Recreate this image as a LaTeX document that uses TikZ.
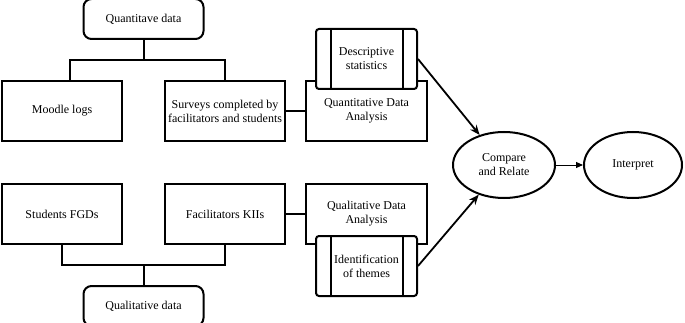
\documentclass[tikz,border=0pt]{standalone}
\usepackage{fontspec}
\setmainfont{Liberation Serif}
\usetikzlibrary{arrows.meta,positioning,shapes.geometric,calc}

\begin{document}
\begin{tikzpicture}[
      x=1pt, y=1pt,
      node distance=40pt and 41pt,
      every node/.style={font=\fontsize{12}{14}\selectfont},
      box/.style={rectangle, draw, line width=2pt, minimum height=60pt,
                  minimum width=120pt, align=center, inner sep=2pt},
      roundbox/.style={box, rounded corners=8pt, minimum height=40pt},
      procbox/.style={box, fill=white, rounded corners=3pt, minimum width=101pt,
                  path picture={\draw[line width=2pt]
                    ([xshift=15pt]path picture bounding box.north west) -- ([xshift=15pt]path picture bounding box.south west)
                    ([xshift=-14pt]path picture bounding box.north east) -- ([xshift=-14pt]path picture bounding box.south east);}},
      oval/.style={ellipse, draw, line width=2pt, minimum height=66pt,
                  align=center, inner sep=0pt},
      link/.style={line width=2pt},
      arr/.style={-{Stealth[length=10pt, width=8pt]}, line width=1.8pt},
      thinarr/.style={-{Triangle[length=7pt, width=6pt]}, line width=0.9pt}
    ]
      \useasboundingbox (0,0) rectangle (685,-323);

      % quantitative strand
      \node[box] (ML) at (62,-111) {Moodle logs};
      \node[box, right=of ML] (SC) {Surveys completed by\\facilitators and students};
      \coordinate (QS) at ($(ML.north)!0.5!(SC.north)$);
      \node[roundbox, above=of QS] (QN) {Quantitave data};
      \node[box, minimum width=121pt, right=19pt of SC] (QA) {Quantitative Data\\Analysis};
      \node[procbox, above=-10pt of QA] (DS) {Descriptive\\statistics};

      % qualitative strand
      \node[box, below=41pt of ML] (SF) {Students FGDs};
      \node[box, right=of SF] (FK) {Facilitators KIIs};
      \coordinate (LS) at ($(SF.south)!0.5!(FK.south)$);
      \node[roundbox, below=of LS] (QL) {Qualitative data};
      \node[box, minimum width=121pt, right=19pt of FK] (LA) {Qualitative Data\\Analysis};
      \node[procbox, below=-10pt of LA] (IT) {Identification\\of themes};

      % merging
      \node[oval, minimum width=102pt] (CR) at (504,-165) {Compare\\and Relate};
      \node[oval, minimum width=98pt, right=27pt of CR] (IP) {Interpret};

      \draw[link] (QN.south) -- ++(0,-20) coordinate (QT);
      \draw[link] ([xshift=8pt]ML.north) |- (QT) -| (SC.north);
      \draw[link] (SC) -- (QA);
      \draw[link] (QL.north) -- ++(0,20) coordinate (LT);
      \draw[link] (SF.south) |- (LT) -| (FK.south);
      \draw[link] (FK) -- (LA);

      \draw[arr] (DS.east) -- (CR);
      \draw[arr] (IT.east) -- (CR);
      \draw[thinarr] (CR) -- (IP);
    \end{tikzpicture}
\end{document}
